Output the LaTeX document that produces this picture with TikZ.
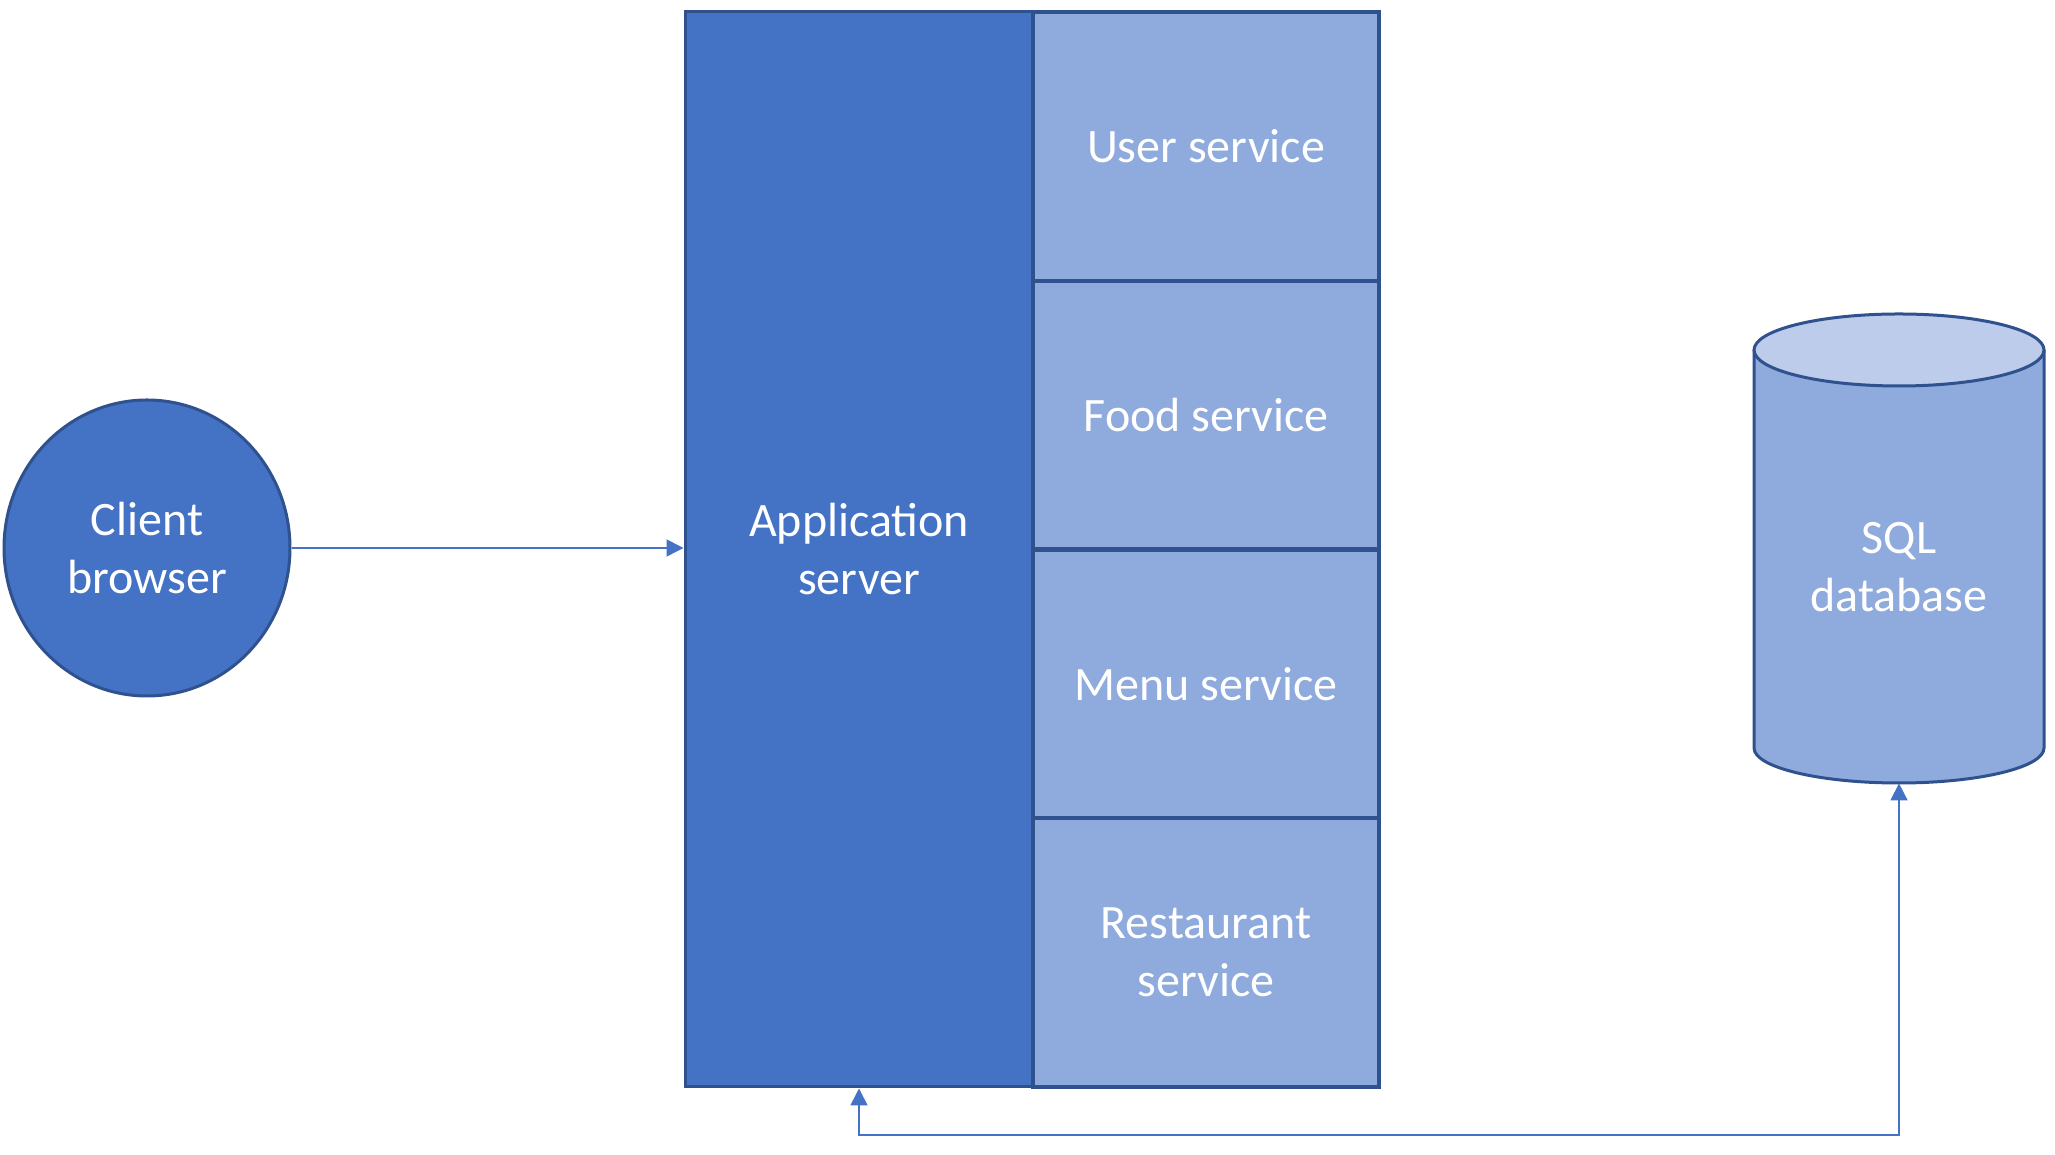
\documentclass[tikz,border=0pt]{standalone}
\usepackage{fontspec}
\setmainfont{Carlito}
\usetikzlibrary{arrows.meta,shapes.geometric}
\definecolor{dark}{HTML}{4472C4}
\definecolor{light}{HTML}{8FAADC}
\definecolor{edge}{HTML}{2F528F}
\definecolor{cyltop}{HTML}{BCCCEA}
\begin{document}
\begin{tikzpicture}[x=0.5pt,y=0.5pt,
  >={Triangle[length=8.5pt,width=8.5pt]},
  lbl/.style={text=white, font=\fontsize{24}{29}\selectfont, align=center},
  box/.style={draw=edge, line width=1.5pt, inner sep=0pt, lbl},
  svc/.style={box, line width=2pt, fill=light, minimum width=173pt, minimum height=134.375pt},
  conn/.style={draw=dark, line width=0.8pt}]
\useasboundingbox (0,0) rectangle (2055,1155);
% client
\node[box, ellipse, fill=dark, minimum width=143pt, minimum height=148pt] (client) at (147,607) {Client\\browser};
% application server
\node[box, fill=dark, minimum width=174pt, minimum height=537.5pt] (app) at (859,605.5) {Application\\server};
% services
\node[svc] (user) at (1206,1008.6) {User service};
\node[svc] (food) at (1206,739.9) {Food service};
\node[svc] (menu) at (1206,471.1) {Menu service};
\node[svc] (rest) at (1206,202.4) {Restaurant\\service};
% database cylinder
\node[minimum width=145pt, minimum height=234.5pt, inner sep=0pt] (db) at (1899,606.5) {};
\fill[light] (1754,805) -- (1754,407) arc[start angle=180,end angle=360,x radius=145,y radius=35] -- (2044,805) -- cycle;
\draw[edge, line width=1.5pt] (1754,805) -- (1754,407) arc[start angle=180,end angle=360,x radius=145,y radius=35] -- (2044,805);
\draw[edge, line width=1.5pt, fill=cyltop] (1899,805) ellipse [x radius=145, y radius=36];
\node[lbl] (dbtext) at (1899,588) {SQL\\database};
% connectors
\coordinate (low) at (0,20);
\draw[conn, ->] (client.east) -- (client.east -| app.west);
\draw[conn, <->] (app.south) -- (app.south |- low) -| (db.south);
\end{tikzpicture}
\end{document}
